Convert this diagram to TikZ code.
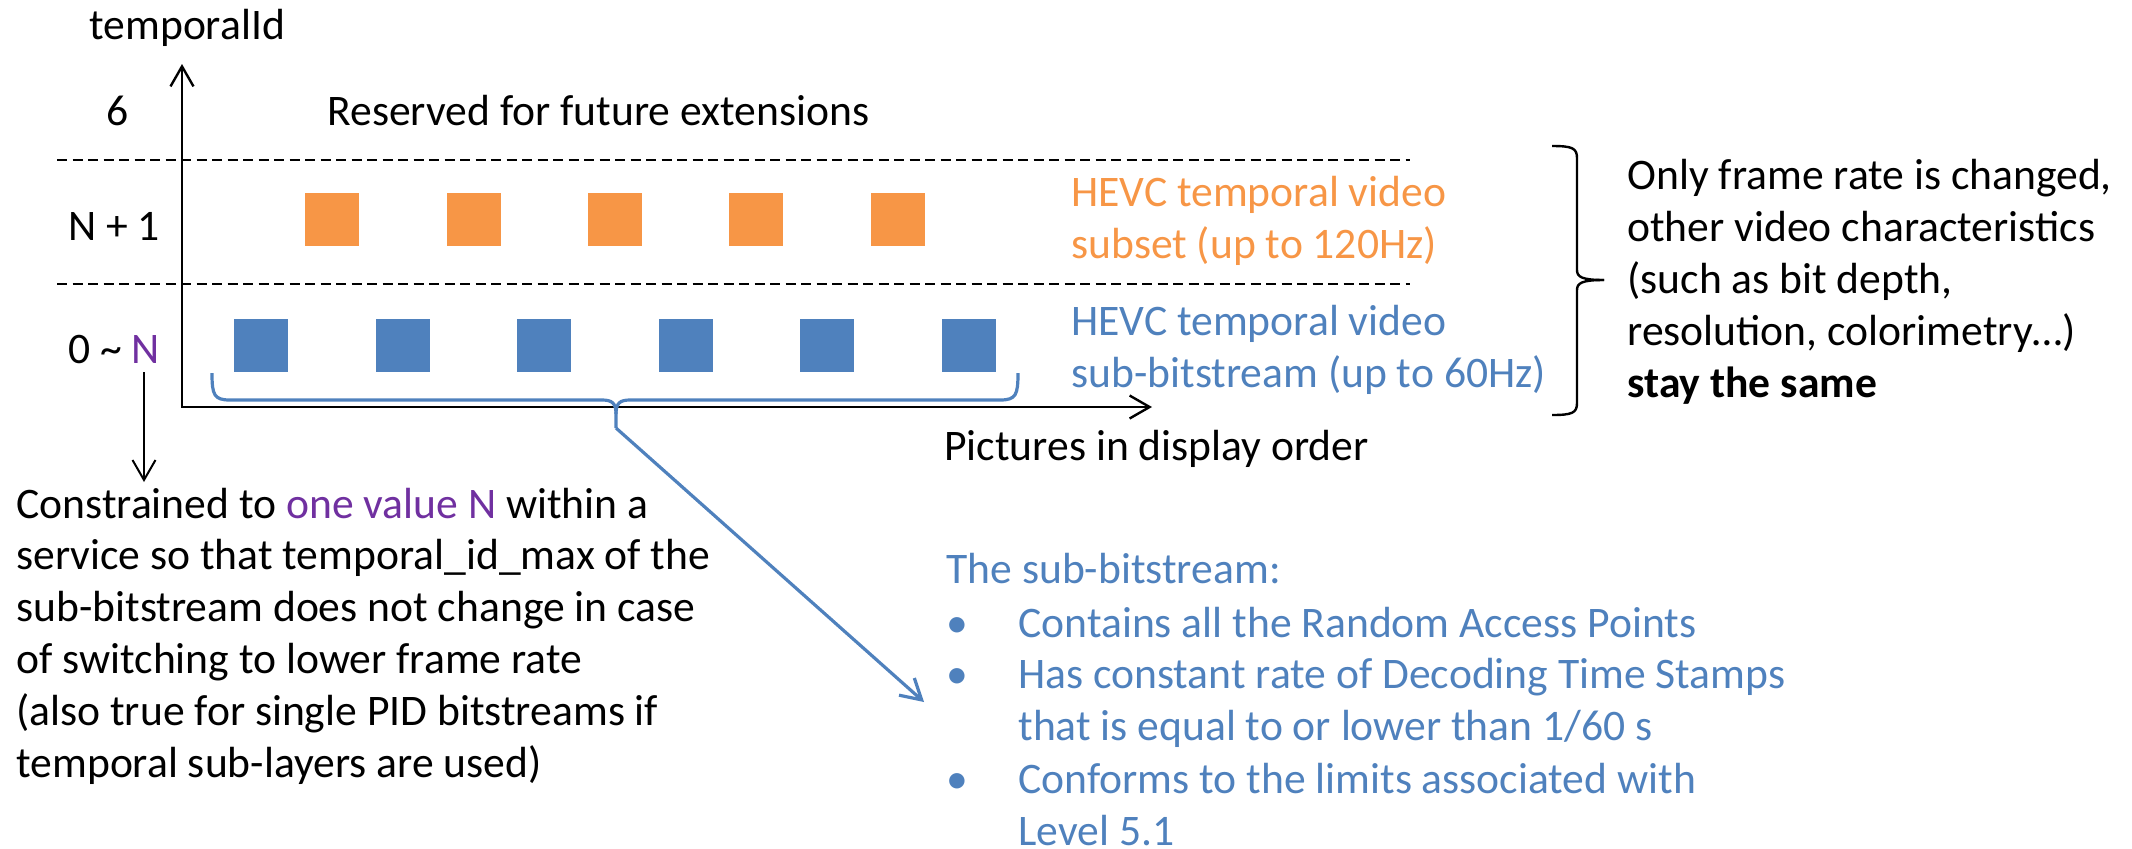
\documentclass[tikz,border=0pt]{standalone}
\usepackage{fontspec}
\setmainfont{Carlito}
\usetikzlibrary{arrows.meta}
\definecolor{ofOrange}{HTML}{F79646}
\definecolor{ofBlue}{HTML}{4F81BD}
\definecolor{ofPurple}{HTML}{7030A0}
\tikzset{barb/.tip={Straight Barb[length=10pt,width=11.5pt]}}
\begin{document}
\begin{tikzpicture}[x=0.5pt,y=-0.5pt,
  font=\fontsize{21.8}{25.9}\selectfont,
  lbl/.style={anchor=base west, inner sep=0pt, align=left},
  sqbox/.style={minimum width=27pt, minimum height=26.5pt, inner sep=0pt, anchor=north west},
  axisline/.style={line width=1.2pt, {barb}-{barb}},
  levelsep/.style={line width=1pt, dash pattern=on 5pt off 2.75pt},
  bluebrace/.style={draw=ofBlue, line width=1.6pt, line join=round},
  blackbrace/.style={draw=black, line width=1.2pt, line join=round}]
\useasboundingbox (0,0) rectangle (2132,848);

% axes
\coordinate (ytip) at (182,64);
\coordinate (xtip) at (1152,407);
\draw[axisline] (ytip) |- (xtip);
\node[lbl] (ylabel) at (89,39) {temporalId};
\node[lbl] (xlabel) at (944,460) {Pictures in display order};

% layer separators
\draw[levelsep] (57,160) -- (1410,160);
\draw[levelsep] (57,284) -- (1410,284);

% layer labels
\node[anchor=base, inner sep=0pt] (l6) at (118,125) {6};
\node[lbl] (reserved) at (327,125) {Reserved for future extensions};
\node[lbl] (lN1) at (68,240) {N + 1};
\node[lbl] (lN0) at (68,363) {0 \textasciitilde{} \textcolor{ofPurple}{N}};

% pictures of the temporal layers
\foreach \x [count=\i] in {305,447,588,729,871}
  \node[sqbox, fill=ofOrange] (o\i) at (\x,193) {};
\foreach \x [count=\i] in {234,376,517,659,800,942}
  \node[sqbox, fill=ofBlue] (b\i) at (\x,319) {};

% multi-line labels are placed by the baseline of their last line
\node[lbl, text=ofOrange] (subset) at (1071,258) {HEVC temporal video\\subset (up to 120Hz)};
\node[lbl, text=ofBlue] (subbs) at (1071,387) {HEVC temporal video\\sub-bitstream (up to 60Hz)};

% brace over both layers and its note
\draw[blackbrace] (1552,146) .. controls (1572,146) and (1577,148) .. (1577,158)
  -- (1577,270) .. controls (1577,277) and (1582,280) .. (1604,280);
\draw[blackbrace] (1552,415) .. controls (1572,415) and (1577,413) .. (1577,403)
  -- (1577,290) .. controls (1577,283) and (1582,280) .. (1604,280);
\node[lbl] (samenote) at (1627,397) {Only frame rate is changed,\\other video characteristics\\(such as bit depth,\\resolution, colorimetry…)\\\textbf{stay the same}};

% note on the value of N
\coordinate (nfoot) at (144,372);
\coordinate (nnote) at (144,482);
\draw[line width=1pt, -{barb}] (nfoot) -- (nnote);
\node[lbl] (constraint) at (16,777) {Constrained to \textcolor{ofPurple}{one value N} within a\\service so that temporal\_id\_max of the\\sub-bitstream does not change in case\\of switching to lower frame rate\\(also true for single PID bitstreams if\\temporal sub-layers are used)};

% brace under the sub-bitstream pictures
\coordinate (bracetip) at (616,428);
\coordinate (notetip) at (924,702);
\draw[bluebrace] (212,373) .. controls (212,395) and (214,400) .. (230,400)
  -- (602,400) .. controls (612,400) and (616,403) .. (616,414) -- (bracetip);
\draw[bluebrace] (1018,373) .. controls (1018,395) and (1016,400) .. (1000,400)
  -- (630,400) .. controls (620,400) and (616,403) .. (616,414);
\draw[bluebrace, -{barb}] (bracetip) -- (notetip);

% properties of the sub-bitstream
\begin{scope}[every node/.style={lbl, text=ofBlue}]
\node (sbhead) at (946,583) {The sub-bitstream:};
\node (d1) at (946,637) {•};
\node (i1) at (1018,637) {Contains all the Random Access Points};
\node (d2) at (946,688) {•};
\node (i2) at (1018,740) {Has constant rate of Decoding Time Stamps\\that is equal to or lower than 1/60 s};
\node (d3) at (946,793) {•};
\node (i3) at (1018,845) {Conforms to the limits associated with\\Level 5.1};
\end{scope}
\end{tikzpicture}
\end{document}
